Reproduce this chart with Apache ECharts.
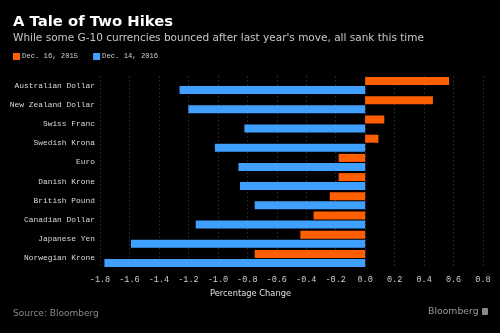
<!DOCTYPE html>
<html><head><meta charset="utf-8">
<script src="https://cdn.jsdelivr.net/npm/echarts@6/dist/echarts.min.js"></script>
<style>html,body{margin:0;padding:0;background:#000;}#c{width:500px;height:333px;}</style>
</head><body><div id="c"></div>
<script>
const categories = ["Australian Dollar","New Zealand Dollar","Swiss Franc","Swedish Krona","Euro","Danish Krone","British Pound","Canadian Dollar","Japanese Yen","Norwegian Krone"];
const dec2015 = [0.57, 0.46, 0.13, 0.09, -0.18, -0.18, -0.24, -0.35, -0.44, -0.75];
const dec2016 = [-1.26, -1.20, -0.82, -1.02, -0.86, -0.85, -0.75, -1.15, -1.59, -1.77];
const seriesNames = ["Dec. 16, 2015", "Dec. 14, 2016"];
const xMin = -1.8, xMax = 0.8, xStep = 0.2;

const chart = echarts.init(document.getElementById('c'));
const mono = '"Liberation Mono", monospace';
chart.setOption({
  backgroundColor: '#000',
  animation: false,
  title: [
    {text: 'A Tale of Two Hikes', left: 13, top: 15, padding: 0, textStyle: {color: '#fff', fontSize: 14.8, fontWeight: 'bold', fontFamily: 'DejaVu Sans'}},
    {text: "While some G-10 currencies bounced after last year's move, all sank this time", left: 13, top: 33, padding: 0, textStyle: {color: '#c8c8c8', fontSize: 10.5, fontWeight: 'normal', fontFamily: 'DejaVu Sans'}},
    {text: 'Percentage Change', left: 210, top: 290, padding: 0, textStyle: {color: '#e0e0e0', fontSize: 8.3, fontWeight: 'normal', fontFamily: 'DejaVu Sans'}},
    {text: 'Source: Bloomberg', left: 13, top: 309, padding: 0, textStyle: {color: '#8a8a8a', fontSize: 9, fontWeight: 'normal', fontFamily: 'DejaVu Sans'}},
    {text: 'Bloomberg', left: 428, top: 307, padding: 0, textStyle: {color: '#9a9a9a', fontSize: 9.3, fontWeight: 'normal', fontFamily: 'DejaVu Sans'}}
  ],
  graphic: [
    {type: 'rect', left: 482, top: 308, shape: {width: 6, height: 7, r: 1}, style: {fill: '#8a8a8a'}}
  ],
  legend: {
    left: 13, top: 53, padding: 0, itemWidth: 7, itemHeight: 7, itemGap: 15,
    icon: 'rect',
    textStyle: {color: '#d0d0d0', fontSize: 7.2, fontFamily: mono, padding: [0,0,0,-3]},
    data: seriesNames
  },
  grid: {left: 100, right: 17, top: 76, bottom: 65},
  xAxis: {
    type: 'value', min: xMin, max: xMax, interval: xStep,
    axisLine: {show: false}, axisTick: {show: false},
    axisLabel: {color: '#cfcfcf', fontSize: 8.5, fontFamily: mono, margin: 7, formatter: v => v.toFixed(1)},
    splitLine: {show: true, lineStyle: {color: '#262626', type: [2, 2], width: 1}}
  },
  yAxis: {
    type: 'category', data: categories, inverse: true,
    axisLine: {show: false}, axisTick: {show: false},
    axisLabel: {color: '#d8d8d8', fontSize: 7.9, fontFamily: mono, margin: 5}
  },
  series: [
    {name: seriesNames[0], type: 'bar', data: dec2015, barWidth: 8, barGap: '12%', itemStyle: {color: '#ff5f00'}},
    {name: seriesNames[1], type: 'bar', data: dec2016, barWidth: 8, itemStyle: {color: '#3fa0ff'}}
  ]
});
</script></body></html>
